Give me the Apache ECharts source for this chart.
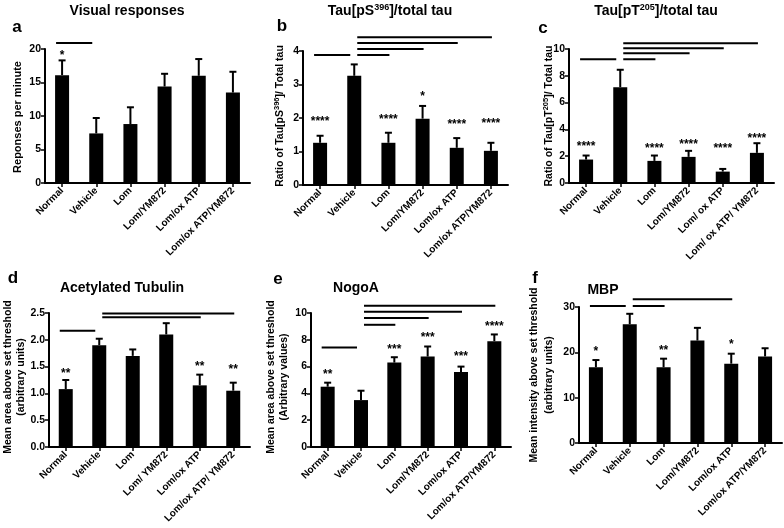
<!DOCTYPE html>
<html><head><meta charset="utf-8">
<script src="https://cdn.jsdelivr.net/npm/echarts@6/dist/echarts.min.js"></script>
<style>html,body{margin:0;padding:0;background:#fff}#c{width:784px;height:528px}</style>
</head><body><div id="c"></div>
<script>
// ---------- data ----------
const catsA = ['Normal','Vehicle','Lom','Lom/YM872','Lom/ox ATP','Lom/ox ATP/YM872'];
const valsA = [16.1, 7.4, 8.8, 14.4, 16.0, 13.5];
const errA  = [18.3, 9.7, 11.3, 16.3, 18.5, 16.6];
const starsA = ['*','','','','',''];
const starLvA = [19.5,null,null,null,null,null];
const bracketsA = [[0,1,20.9]];
const ticksA = {max:20, interval:5};

const catsB = ['Normal','Vehicle','Lom','Lom/YM872','Lom/ox ATP','Lom/ox ATP/YM872'];
const valsB = [1.26, 3.26, 1.26, 1.98, 1.11, 1.02];
const errB  = [1.47, 3.6, 1.56, 2.36, 1.40, 1.26];
const starsB = ['****','','****','*','****','****'];
const starLvB = [1.99,null,2.03,2.74,1.89,1.91];
const bracketsB = [[0,1,3.88],[1,2,3.88],[1,3,4.06],[1,4,4.24],[1,5,4.41]];
const ticksB = {max:4, interval:1};

const catsC = ['Normal','Vehicle','Lom','Lom/YM872','Lom/ ox ATP','Lom/ ox ATP/ YM872'];
const valsC = [1.75, 7.15, 1.65, 1.95, 0.85, 2.25];
const errC  = [2.05, 8.45, 2.05, 2.4, 1.05, 2.97];
const starsC = ['****','','****','****','****','****'];
const starLvC = [2.97,null,2.8,3.1,2.75,3.5];
const bracketsC = [[0,1,9.23],[1,2,9.23],[1,3,9.68],[1,4,10.05],[1,5,10.43]];
const ticksC = {max:10, interval:2};

const catsD = ['Normal','Vehicle','Lom','Lom/ YM872','Lom/ox ATP','Lom/ox ATP/ YM872'];
const valsD = [1.08, 1.9, 1.7, 2.1, 1.15, 1.05];
const errD  = [1.25, 2.02, 1.82, 2.31, 1.35, 1.2];
const starsD = ['**','','','','**','**'];
const starLvD = [1.43,null,null,null,1.56,1.5];
const bracketsD = [[0,1,2.17],[1,4,2.42],[1,5,2.49]];
const ticksD = {max:2.5, interval:0.5};

const catsE = ['Normal','Vehicle','Lom','Lom/YM872','Lom/ox ATP','Lom/ox ATP/YM872'];
const valsE = [4.5, 3.5, 6.3, 6.75, 5.6, 7.9];
const errE  = [4.8, 4.2, 6.7, 7.5, 6.0, 8.4];
const starsE = ['**','','***','***','***','****'];
const starLvE = [5.64,null,7.48,8.35,6.93,9.18];
const bracketsE = [[0,1,7.43],[1,2,9.12],[1,3,9.62],[1,4,10.09],[1,5,10.54]];
const ticksE = {max:10, interval:2};

const catsF = ['Normal','Vehicle','Lom','Lom/YM872','Lom/ox ATP','Lom/ox ATP/YM872'];
const valsF = [16.7, 26.2, 16.7, 22.6, 17.5, 19.1];
const errF  = [18.3, 28.5, 18.6, 25.4, 19.7, 20.9];
const starsF = ['*','','**','','*',''];
const starLvF = [20.9,null,21.1,null,22.4,null];
const bracketsF = [[0,1,30.2],[1,2,30.2],[1,4,31.7]];
const ticksF = {max:30, interval:10};

// ---------- layout ----------
const FONT = "'Liberation Sans', Arial, sans-serif";
const panels = [
  {cats:catsA, vals:valsA, err:errA, stars:starsA, lv:starLvA, br:bracketsA, t:ticksA, grid:{left:45,top:49,width:205,height:134}},
  {cats:catsB, vals:valsB, err:errB, stars:starsB, lv:starLvB, br:bracketsB, t:ticksB, grid:{left:303,top:51,width:205,height:134}},
  {cats:catsC, vals:valsC, err:errC, stars:starsC, lv:starLvC, br:bracketsC, t:ticksC, grid:{left:569,top:49,width:205,height:134}},
  {cats:catsD, vals:valsD, err:errD, stars:starsD, lv:starLvD, br:bracketsD, t:ticksD, grid:{left:49,top:313,width:201,height:134}, fmt:1},
  {cats:catsE, vals:valsE, err:errE, stars:starsE, lv:starLvE, br:bracketsE, t:ticksE, grid:{left:311,top:313,width:200,height:134}},
  {cats:catsF, vals:valsF, err:errF, stars:starsF, lv:starLvF, br:bracketsF, t:ticksF, grid:{left:579,top:307,width:203,height:136}}
];

const grid = [], xAxis = [], yAxis = [], series = [];
panels.forEach((p, k) => {
  grid.push(Object.assign({containLabel:false}, p.grid));
  xAxis.push({
    type:'category', gridIndex:k, data:p.cats,
    axisLine:{lineStyle:{color:'#000', width:2}},
    axisTick:{show:true, alignWithLabel:true, length:4, lineStyle:{color:'#000', width:1.5}},
    axisLabel:{interval:0, rotate:45, color:'#000', fontSize:10, fontWeight:'bold', fontFamily:FONT, margin:6}
  });
  yAxis.push({
    type:'value', gridIndex:k, min:0, max:p.t.max, interval:p.t.interval,
    axisLine:{show:true, lineStyle:{color:'#000', width:2}},
    axisTick:{show:true, length:4, lineStyle:{color:'#000', width:1.5}},
    splitLine:{show:false},
    axisLabel:{color:'#000', fontSize:10.5, fontWeight:'bold', fontFamily:FONT, margin:4,
      formatter: p.fmt ? (v => v.toFixed(1)) : (v => String(v))}
  });
  series.push({
    type:'bar', xAxisIndex:k, yAxisIndex:k, data:p.vals, barWidth:14,
    itemStyle:{color:'#000'}, silent:true
  });
  series.push({
    type:'custom', xAxisIndex:k, yAxisIndex:k, silent:true,
    data:p.vals.map((v,i)=>[i, v, p.err[i]]),
    renderItem:(params, api) => {
      const a = api.coord([api.value(0), api.value(1)]);
      const b = api.coord([api.value(0), api.value(2)]);
      return {type:'group', children:[
        {type:'line', shape:{x1:a[0], y1:a[1], x2:b[0], y2:b[1]}, style:{stroke:'#000', lineWidth:2}},
        {type:'line', shape:{x1:b[0]-3.5, y1:b[1], x2:b[0]+3.5, y2:b[1]}, style:{stroke:'#000', lineWidth:2}}
      ]};
    }
  });
  const starData = [], starText = [];
  p.stars.forEach((s,i)=>{ if (s) { starData.push([i, p.lv[i]]); starText.push(s); } });
  series.push({
    type:'custom', xAxisIndex:k, yAxisIndex:k, silent:true, data:starData,
    renderItem:(params, api) => {
      const c = api.coord([api.value(0), api.value(1)]);
      return {type:'text', x:c[0], y:c[1]+3, style:{text:starText[params.dataIndex], fill:'#000',
        font:'bold 12px ' + FONT, align:'center', verticalAlign:'middle'}};
    }
  });
  series.push({
    type:'custom', xAxisIndex:k, yAxisIndex:k, silent:true, clip:false, data:p.br,
    renderItem:(params, api) => {
      const f = api.value(0), t = api.value(1);
      const a = api.coord([f, api.value(2)]);
      const b = api.coord([t, api.value(2)]);
      const x1 = f === 0 ? a[0]-6 : a[0]+3;
      const x2 = t === 1 ? b[0]-4 : b[0]+1;
      return {type:'line', shape:{x1:x1, y1:a[1], x2:x2, y2:a[1]}, style:{stroke:'#000', lineWidth:2}};
    }
  });
});

// ---------- texts ----------
const titleFont = 'bold 14px ' + FONT;
const supRich = {sup:{fontSize:9, fontWeight:'bold', fontFamily:FONT, verticalAlign:'top', lineHeight:16}};
const nameRich = {sup:{fontSize:7.5, fontWeight:'bold', fontFamily:FONT, verticalAlign:'top', lineHeight:14}};
function txt(x, y, text, font, rot, rich, lh) {
  return {type:'text', x:x, y:y, rotation:rot||0, silent:true,
    style:{text:text, font:font, fill:'#000', align:'center', verticalAlign:'middle', rich:rich, lineHeight:lh}};
}
const graphic = [
  txt(127, 11, 'Visual responses', titleFont),
  txt(390, 11, 'Tau[pS{sup|396}]/total tau', titleFont, 0, supRich, 16),
  txt(656, 11, 'Tau[pT{sup|205}]/total tau', titleFont, 0, supRich, 16),
  txt(122, 288, 'Acetylated Tubulin', titleFont),
  txt(356, 288, 'NogoA', titleFont),
  txt(603, 290, 'MBP', titleFont),
  txt(17, 27, 'a', 'bold 17px ' + FONT),
  txt(282, 26, 'b', 'bold 17px ' + FONT),
  txt(543, 28, 'c', 'bold 17px ' + FONT),
  txt(13, 278, 'd', 'bold 17px ' + FONT),
  txt(278, 279, 'e', 'bold 17px ' + FONT),
  txt(535, 278, 'f', 'bold 17px ' + FONT),
  txt(18, 117, 'Reponses per minute', 'bold 11px ' + FONT, Math.PI/2),
  txt(280, 116, 'Ratio of Tau[pS{sup|396}]/ Total tau', 'bold 10.5px ' + FONT, Math.PI/2, nameRich, 14),
  txt(549, 116, 'Ratio of Tau[pT{sup|205}]/ Total tau', 'bold 10.5px ' + FONT, Math.PI/2, nameRich, 14),
  txt(15, 377, 'Mean area above set threshold\n(arbitrary units)', 'bold 10.5px ' + FONT, Math.PI/2, null, 13),
  txt(278, 377, 'Mean area above set threshold\n(Arbitrary values)', 'bold 10.5px ' + FONT, Math.PI/2, null, 13),
  txt(542, 375, 'Mean intensity above set threshold\n(arbitrary units)', 'bold 10.5px ' + FONT, Math.PI/2, null, 15)
];

const chart = echarts.init(document.getElementById('c'), null, {renderer:'canvas'});
chart.setOption({animation:false, backgroundColor:'#fff', grid, xAxis, yAxis, series, graphic});
</script>
</body></html>
